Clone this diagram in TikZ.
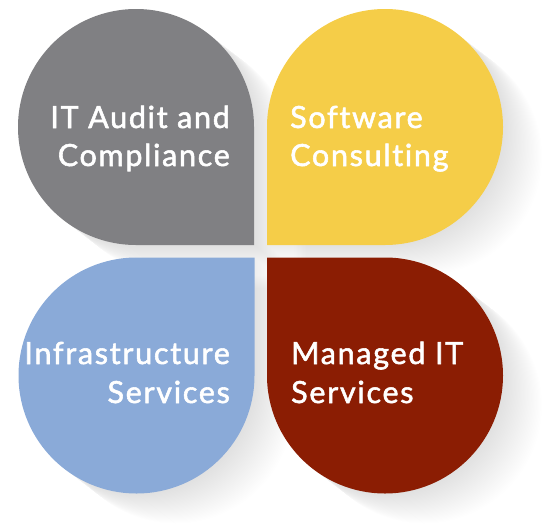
\documentclass[tikz,border=0pt]{standalone}
\usepackage{fontspec}
\setmainfont{Lato}[FakeBold=1.8,LetterSpace=5.6,Ligatures=NoCommon]
\definecolor{petgray}{RGB}{128,128,131}
\definecolor{petyellow}{RGB}{245,205,72}
\definecolor{petblue}{RGB}{138,170,216}
\definecolor{petred}{RGB}{139,29,3}
\newcommand\petalshape{(118,-118) -- (118,0) arc[start angle=0,end angle=270,radius=118] -- cycle}
\newcommand\petalshadow[3]{%
  \foreach \i in {1,...,30}{%
    \fill[black,opacity=0.0055,shift={(#1+1.3*\i,#2-1.0*\i)},rotate=#3] \petalshape;}}
\tikzset{
  lbl/.style={text=white,font=\fontsize{30.5}{36}\selectfont,inner sep=0pt},
  lblr/.style={lbl,anchor=base east},
  lbll/.style={lbl,anchor=base west}
}
\begin{document}
\begin{tikzpicture}[x=1pt,y=1pt]
\useasboundingbox (0,0) rectangle (551,-525);
% shadows
\petalshadow{136}{-127}{0}
\petalshadow{385}{-127}{-90}
\petalshadow{136.5}{-375.5}{90}
\petalshadow{385}{-375.5}{180}
% petals
\fill[petgray,shift={(136,-127)}] \petalshape;
\fill[petyellow,shift={(385,-127)},rotate=-90] \petalshape;
\fill[petblue,shift={(136.5,-375.5)},rotate=90] \petalshape;
\fill[petred,shift={(385,-375.5)},rotate=180] \petalshape;
% labels
\node[lblr] (g1) at (230,-128) {IT Audit and};
\node[lblr] (g2) at (230,-166) {Compliance};
\node[lbll] (y1) at (290,-128) {Software};
\node[lbll] (y2) at (290,-166) {Consulting};
\node[lblr] (b1) at (230,-364) {Infrastructure};
\node[lblr] (b2) at (230,-403) {Services};
\node[lbll] (r1) at (291,-364) {Managed IT};
\node[lbll] (r2) at (291,-403) {Services};
\end{tikzpicture}
\end{document}
